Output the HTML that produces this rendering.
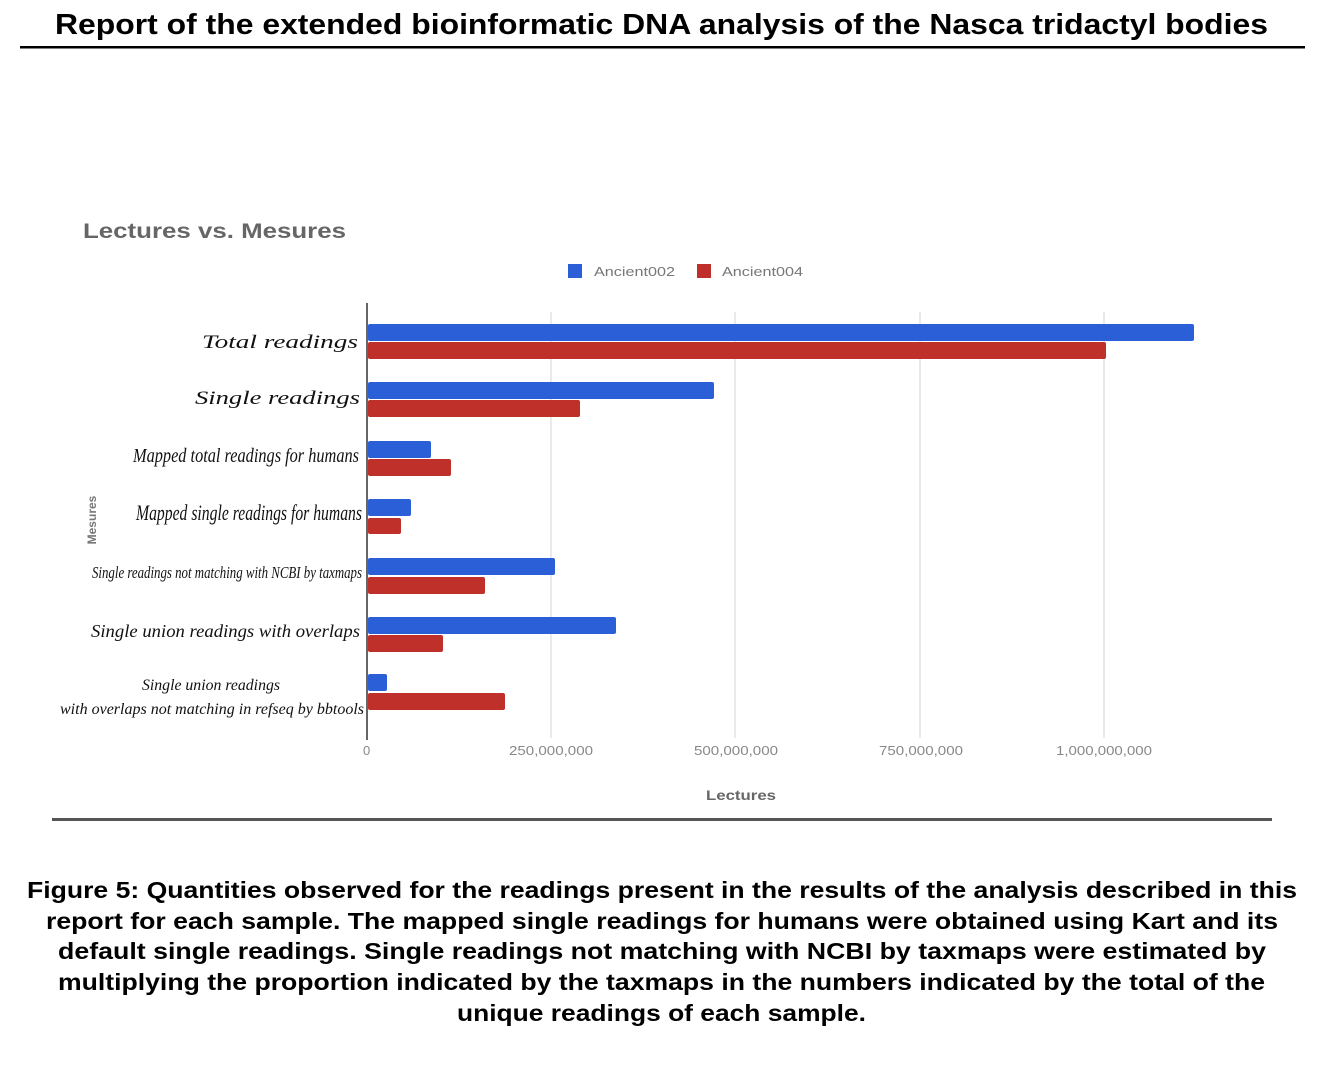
<!DOCTYPE html>
<html><head><meta charset="utf-8"><style>
html,body{margin:0;padding:0;background:#fff;width:1332px;height:1074px;overflow:hidden}
</style></head><body>
<svg width="1332" height="1074" xmlns="http://www.w3.org/2000/svg">
<text x="55" y="34" font-family="Liberation Sans, sans-serif" font-weight="bold" font-size="29" fill="#000" textLength="1213" lengthAdjust="spacingAndGlyphs">Report of the extended bioinformatic DNA analysis of the Nasca tridactyl bodies</text>
<rect x="20" y="46" width="1285" height="2.5" fill="#000"/>
<text x="83" y="238" font-family="Liberation Sans, sans-serif" font-weight="bold" font-size="21" fill="#666" textLength="263" lengthAdjust="spacingAndGlyphs">Lectures vs. Mesures</text>
<rect x="568" y="264" width="14" height="14" fill="#2a5fd8"/>
<text x="594" y="276" font-family="Liberation Sans, sans-serif" font-size="13" fill="#777" textLength="81" lengthAdjust="spacingAndGlyphs">Ancient002</text>
<rect x="697" y="264" width="14" height="14" fill="#c0302a"/>
<text x="722" y="276" font-family="Liberation Sans, sans-serif" font-size="13" fill="#777" textLength="81" lengthAdjust="spacingAndGlyphs">Ancient004</text>
<g stroke="#ddd" stroke-width="1.2">
<line x1="551" y1="312" x2="551" y2="738"/><line x1="735" y1="312" x2="735" y2="738"/>
<line x1="920" y1="312" x2="920" y2="738"/><line x1="1104" y1="312" x2="1104" y2="738"/>
</g>
<g fill="#2a5fd8">
<rect x="368" y="324" width="826" height="17" rx="2"/>
<rect x="368" y="382" width="346" height="17" rx="2"/>
<rect x="368" y="441" width="63" height="17" rx="2"/>
<rect x="368" y="499" width="43" height="17" rx="2"/>
<rect x="368" y="558" width="187" height="17" rx="2"/>
<rect x="368" y="617" width="248" height="17" rx="2"/>
<rect x="368" y="674" width="19" height="17" rx="2"/>
</g>
<g fill="#c0302a">
<rect x="368" y="342" width="738" height="17" rx="2"/>
<rect x="368" y="400" width="212" height="17" rx="2"/>
<rect x="368" y="459" width="83" height="17" rx="2"/>
<rect x="368" y="518" width="33" height="16" rx="2"/>
<rect x="368" y="577" width="117" height="17" rx="2"/>
<rect x="368" y="635" width="75" height="17" rx="2"/>
<rect x="368" y="693" width="137" height="17" rx="2"/>
</g>
<line x1="367" y1="303" x2="367" y2="740" stroke="#666" stroke-width="2"/>
<g font-family="Liberation Serif, serif" font-style="italic" fill="#111">
<text x="202" y="348" font-size="19" textLength="156" lengthAdjust="spacingAndGlyphs">Total readings</text>
<text x="195" y="404" font-size="19" textLength="165" lengthAdjust="spacingAndGlyphs">Single readings</text>
<text x="133" y="462" font-size="20" textLength="226" lengthAdjust="spacingAndGlyphs">Mapped total readings for humans</text>
<text x="136" y="520" font-size="22" textLength="226" lengthAdjust="spacingAndGlyphs">Mapped single readings for humans</text>
<text x="92" y="578" font-size="17" textLength="270" lengthAdjust="spacingAndGlyphs">Single readings not matching with NCBI by taxmaps</text>
<text x="91" y="637" font-size="18" textLength="269" lengthAdjust="spacingAndGlyphs">Single union readings with overlaps</text>
<text x="142" y="690" font-size="16" textLength="138" lengthAdjust="spacingAndGlyphs">Single union readings</text>
<text x="60" y="714" font-size="16" textLength="304" lengthAdjust="spacingAndGlyphs">with overlaps not matching in refseq by bbtools</text>
</g>
<text x="96" y="520" transform="rotate(-90 96 520)" text-anchor="middle" font-family="Liberation Sans, sans-serif" font-weight="bold" font-size="12" fill="#777">Mesures</text>
<g font-family="Liberation Sans, sans-serif" font-size="13" fill="#888">
<text x="363" y="755">0</text>
<text x="509" y="755" textLength="84" lengthAdjust="spacingAndGlyphs">250,000,000</text>
<text x="694" y="755" textLength="84" lengthAdjust="spacingAndGlyphs">500,000,000</text>
<text x="879" y="755" textLength="84" lengthAdjust="spacingAndGlyphs">750,000,000</text>
<text x="1056" y="755" textLength="96" lengthAdjust="spacingAndGlyphs">1,000,000,000</text>
</g>
<text x="706" y="800" font-family="Liberation Sans, sans-serif" font-weight="bold" font-size="14" fill="#666" textLength="70" lengthAdjust="spacingAndGlyphs">Lectures</text>
<rect x="52" y="818" width="1220" height="3" fill="#555"/>
<g font-family="Liberation Sans, sans-serif" font-weight="bold" font-size="23" fill="#000">
<text x="27" y="898" textLength="1270" lengthAdjust="spacingAndGlyphs">Figure 5: Quantities observed for the readings present in the results of the analysis described in this</text>
<text x="46" y="929" textLength="1232" lengthAdjust="spacingAndGlyphs">report for each sample. The mapped single readings for humans were obtained using Kart and its</text>
<text x="58" y="959" textLength="1208" lengthAdjust="spacingAndGlyphs">default single readings.  Single readings not matching with NCBI by taxmaps were estimated by</text>
<text x="58" y="990" textLength="1207" lengthAdjust="spacingAndGlyphs">multiplying the proportion indicated by the taxmaps in the numbers indicated by the total of the</text>
<text x="457" y="1021" textLength="409" lengthAdjust="spacingAndGlyphs">unique readings of each sample.</text>
</g>
</svg>
</body></html>
